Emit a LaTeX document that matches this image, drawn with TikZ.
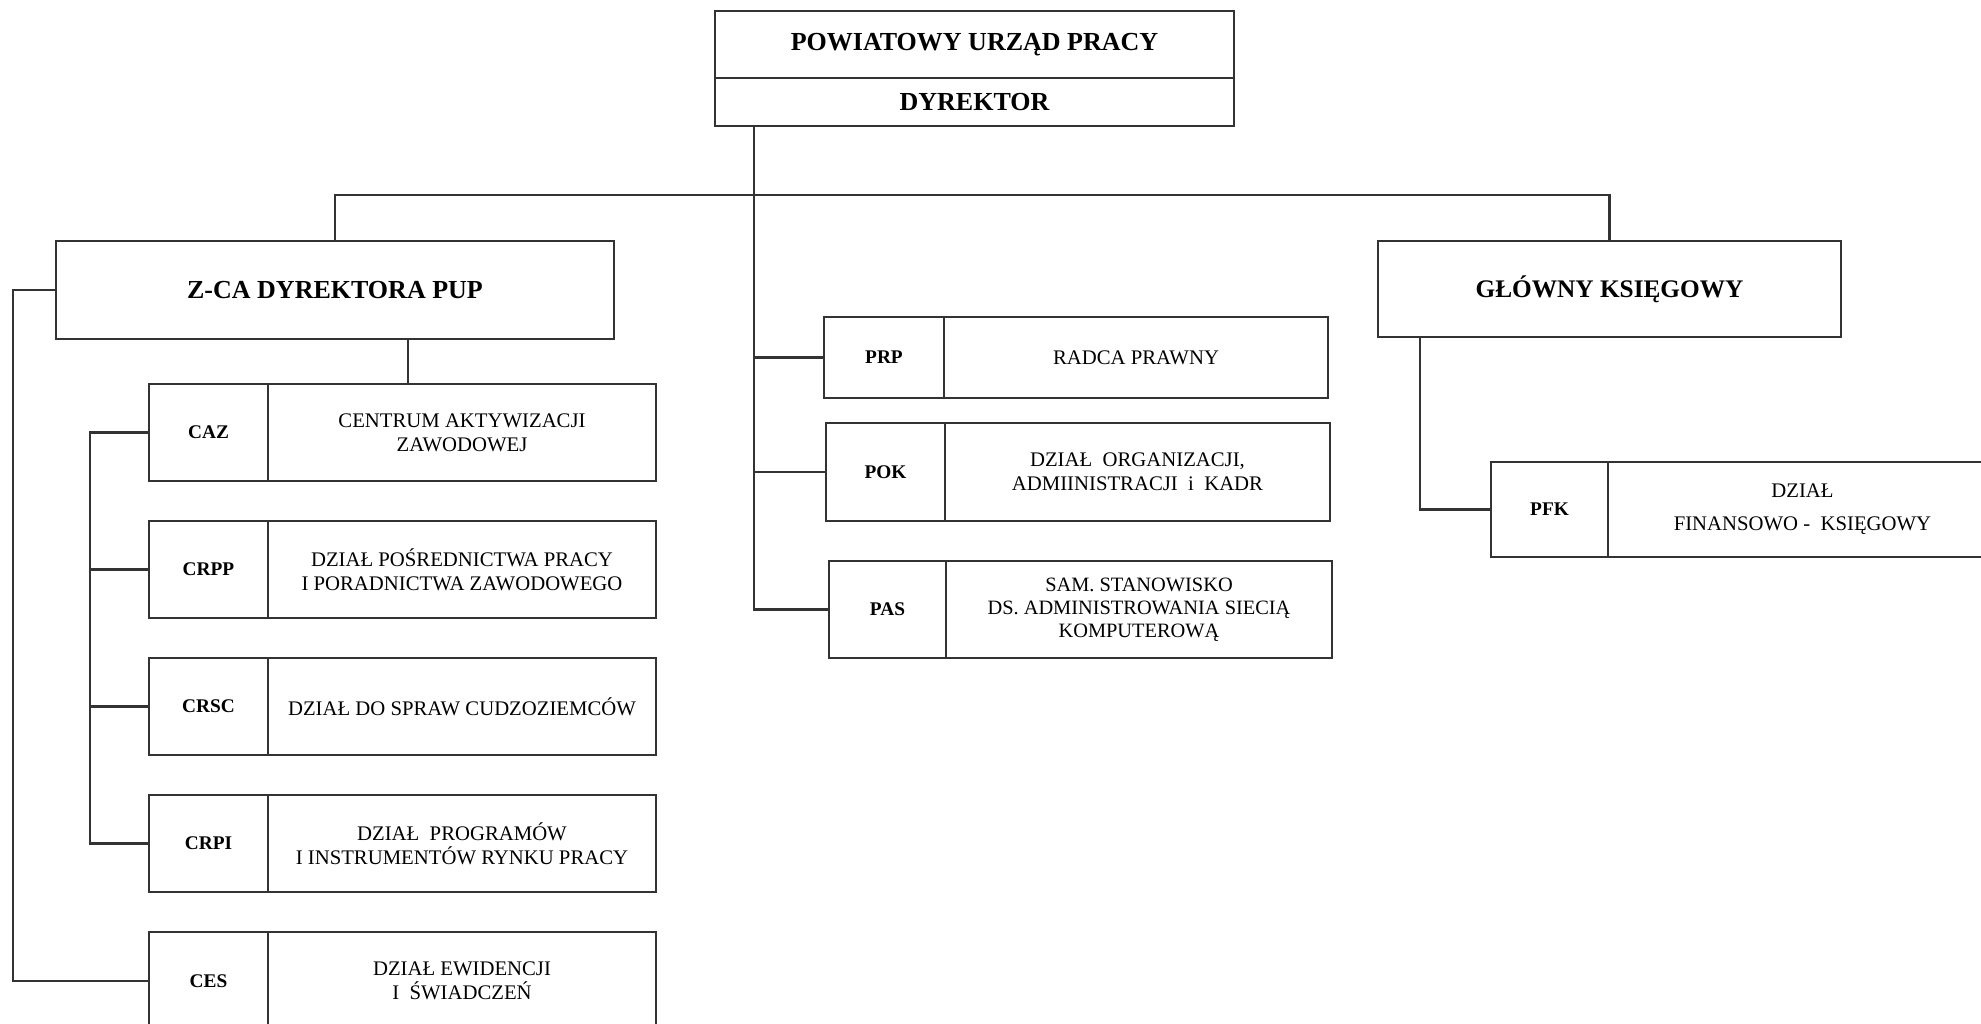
\documentclass[tikz,border=0pt]{standalone}
\usepackage{fontspec}
\setmainfont{Liberation Serif}
\usetikzlibrary{positioning}

\begin{document}
\begin{tikzpicture}[
  x=0.1mm, y=-0.1mm,
  node distance=0pt,
  box/.style={rectangle, draw=black!80, line width=0.8pt, inner sep=1pt,
              outer sep=0pt, align=center},
  hbox/.style={box, anchor=north west, font=\fontsize{7.4}{9}\selectfont\bfseries},
  cbox/.style={box, anchor=north west, minimum height=9.7mm,
               font=\fontsize{5.5}{7}\selectfont\bfseries},
  dbox/.style={box, minimum height=9.7mm, font=\fontsize{5.9}{6.8}\selectfont},
  link/.style={draw=black!80, line width=0.6pt},
]
\useasboundingbox (0,0) rectangle (1981,1024);
\clip (0,0) rectangle (1981,1024);

%% ---- top: office and director ----
\node[hbox, minimum width=51.9mm, minimum height=6.7mm] (pup) at (715,11)
      {POWIATOWY URZĄD PRACY};
\node[hbox, anchor=north, minimum width=51.9mm, minimum height=4.8mm,
      below=of pup] (dyr) {DYREKTOR};

%% ---- second level ----
\node[hbox, minimum width=55.8mm, minimum height=9.8mm] (zca) at (56,241)
      {\fontsize{7.4}{9}\selectfont Z-CA DYREKTORA PUP};
\node[hbox, minimum width=46.3mm, minimum height=9.6mm] (gk) at (1378,241)
      {\fontsize{7.2}{9}\selectfont GŁÓWNY KSIĘGOWY};

%% ---- left column ----
\node[cbox, minimum width=11.9mm] (caz) at (149,384) {CAZ};
\node[dbox, minimum width=38.8mm, right=of caz] (caz-d)
      {CENTRUM AKTYWIZACJI\\ZAWODOWEJ};
\node[cbox, minimum width=11.9mm] (crpp) at (149,521) {CRPP};
\node[dbox, minimum width=38.8mm, right=of crpp] (crpp-d)
      {DZIAŁ POŚREDNICTWA PRACY\\I PORADNICTWA ZAWODOWEGO};
\node[cbox, minimum width=11.9mm] (crsc) at (149,658) {CRSC};
\node[dbox, minimum width=38.8mm, right=of crsc] (crsc-d)
      {DZIAŁ DO SPRAW CUDZOZIEMCÓW};
\node[cbox, minimum width=11.9mm] (crpi) at (149,795) {CRPI};
\node[dbox, minimum width=38.8mm, right=of crpi] (crpi-d)
      {DZIAŁ\ \ PROGRAMÓW\\I INSTRUMENTÓW RYNKU PRACY};
\node[cbox, minimum width=11.9mm, minimum height=9.8mm] (ces) at (149,932) {CES};
\node[dbox, minimum width=38.8mm, minimum height=9.8mm, right=of ces] (ces-d)
      {DZIAŁ EWIDENCJI\\I\ \ ŚWIADCZEŃ};

%% ---- middle column ----
\node[cbox, minimum width=12mm, minimum height=8.1mm] (prp) at (824,317) {PRP};
\node[dbox, minimum width=38.4mm, minimum height=8.1mm, right=of prp] (prp-d)
      {RADCA PRAWNY};
\node[cbox, minimum width=11.9mm, minimum height=9.8mm] (pok) at (826,423) {POK};
\node[dbox, minimum width=38.5mm, minimum height=9.8mm, right=of pok] (pok-d)
      {DZIAŁ\ \ ORGANIZACJI,\\ADMIINISTRACJI\ \ i\ \ KADR};
\node[cbox, minimum width=11.7mm, minimum height=9.7mm] (pas) at (829,561) {PAS};
\node[dbox, minimum width=38.6mm, right=of pas, font=\fontsize{5.8}{6.5}\selectfont] (pas-d)
      {SAM. STANOWISKO\\DS. ADMINISTROWANIA SIECIĄ\\KOMPUTEROWĄ};

%% ---- right column ----
\node[cbox, minimum width=11.7mm, minimum height=9.5mm] (pfk) at (1491,462) {PFK};
\node[dbox, minimum width=38.9mm, minimum height=9.5mm, right=of pfk,
      font=\fontsize{5.9}{9.4}\selectfont] (pfk-d)
      {DZIAŁ\\FINANSOWO -\ \ KSIĘGOWY};

%% ---- connectors ----
\coordinate (bus)   at (754,195);
\coordinate (zdrop) at (408,0);
\coordinate (outer) at (13,0);
\coordinate (inner) at (90,0);
\coordinate (gdrop) at (1420,0);

\draw[link] (zca.north) -- (zca.north |- bus) -- (gk.north |- bus) -- (gk.north);
\draw[link] (bus |- dyr.south) -- (bus |- pas.west) -- (pas.west);
\foreach \n in {prp, pok}
  \draw[link] (bus |- \n.west) -- (\n.west);

\draw[link] (zdrop |- zca.south) -- (zdrop |- caz.north);
\draw[link] (zca.west) -- (outer |- zca.west) -- (outer |- ces.west) -- (ces.west);
\draw[link] (caz.west) -- (inner |- caz.west) -- (inner |- crpi.west) -- (crpi.west);
\foreach \n in {crpp, crsc}
  \draw[link] (inner |- \n.west) -- (\n.west);

\draw[link] (gdrop |- gk.south) -- (gdrop |- pfk.west) -- (pfk.west);

\end{tikzpicture}
\end{document}
